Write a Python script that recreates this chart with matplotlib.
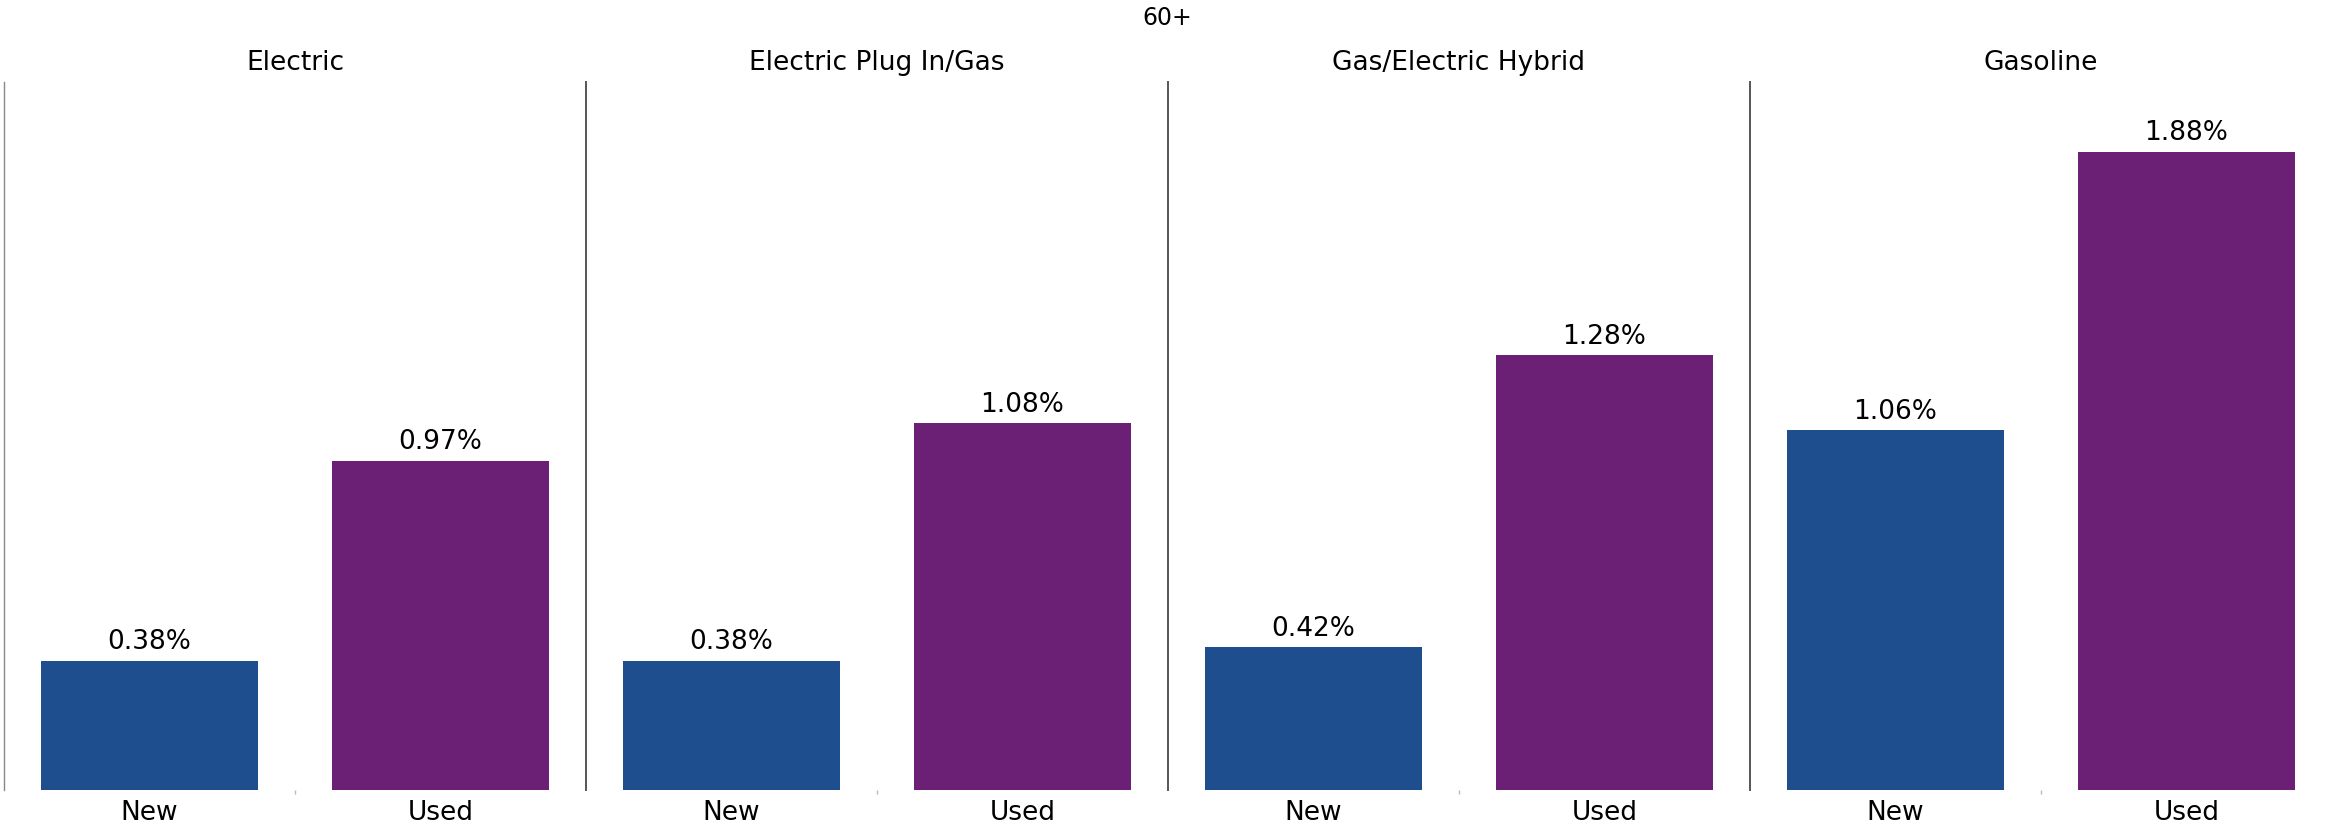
import matplotlib
matplotlib.use("Agg")
import matplotlib.pyplot as plt

# Share of loans by fuel type, age group 60+
fuel_types = ["Electric", "Electric Plug In/Gas", "Gas/Electric Hybrid", "Gasoline"]
conditions = ["New", "Used"]
new_pct = [0.38, 0.38, 0.42, 1.06]
used_pct = [0.97, 1.08, 1.28, 1.88]
colors = ["#1f4e8e", "#6b1f75"]
suptitle = "60+"

plt.rcParams["font.family"] = ["DejaVu Sans"]

W, H = 2333, 832
fig = plt.figure(figsize=(W / 100, H / 100), dpi=100)

left0 = 4 / W
panel_w = 582 / W
bottom = 1 - 790 / H
top = 1 - 82 / H

fig.text(1167 / W, 1 - 18 / H, suptitle, ha="center", va="center", fontsize=17)

for i, fuel in enumerate(fuel_types):
    ax = fig.add_axes([left0 + i * panel_w, bottom, panel_w, top - bottom])
    vals = [new_pct[i], used_pct[i]]
    x = [0, 1]
    ax.bar(x, vals, width=0.746, color=colors, edgecolor="none")
    ax.set_xlim(-0.5, 1.5)
    ax.set_ylim(0, 2.085)
    for xi, v in zip(x, vals):
        ax.annotate(f"{v:.2f}%", (xi, v), xytext=(0, 4), textcoords="offset points",
                    ha="center", va="bottom", fontsize=19)
    ax.set_xticks(x)
    ax.set_xticklabels(conditions, fontsize=19)
    ax.tick_params(axis="x", length=0, pad=7)
    ax.set_xticks([0.5], minor=True)
    ax.tick_params(axis="x", which="minor", length=3, color="#bbbbbb", width=1)
    ax.set_yticks([])
    for s in ["top", "right", "bottom"]:
        ax.spines[s].set_visible(False)
    ax.spines["left"].set_color("#555555" if i else "#888888")
    ax.spines["left"].set_linewidth(1.4 if i else 1.0)
    fig.text(left0 + (i + 0.5) * panel_w, 1 - 63 / H, fuel,
             ha="center", va="center", fontsize=19)

fig.savefig("out.png", dpi=100)
